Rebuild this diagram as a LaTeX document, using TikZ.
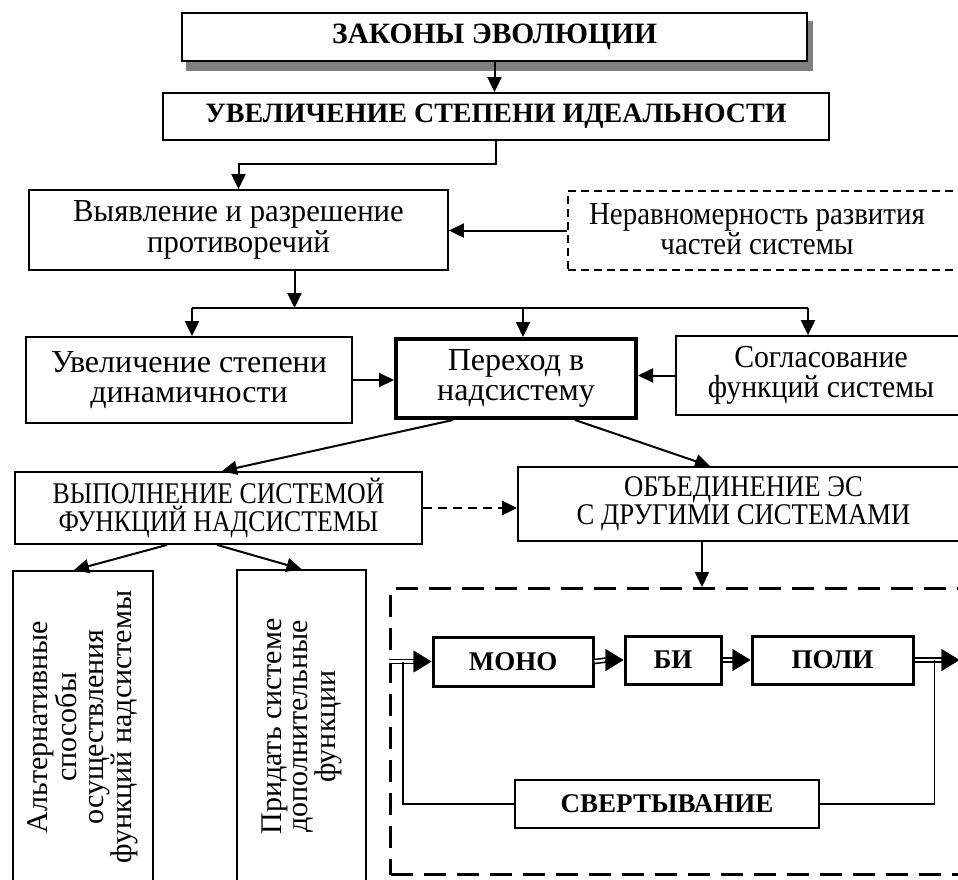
\documentclass[tikz,border=0pt]{standalone}
\usepackage{fontspec}
\setmainfont{Liberation Serif}
\newfontfamily\regfont[FakeStretch=0.96]{Liberation Serif}
\newfontfamily\nerfont[FakeStretch=0.905]{Liberation Serif}
\newfontfamily\soglfont[FakeStretch=0.93]{Liberation Serif}
\newfontfamily\condfont[FakeStretch=0.86]{Liberation Serif}
\newfontfamily\condfontB[FakeStretch=0.89]{Liberation Serif}
\usetikzlibrary{arrows.meta,backgrounds,calc}
\begin{document}
\begin{tikzpicture}[x=1pt,y=-1pt,
  box/.style={draw, line width=1.8pt, fill=white, inner sep=0pt, align=center,
    font=\fontsize{32}{30}\selectfont},
  capbox/.style={box, font=\condfont\fontsize{30}{28}\selectfont},
  boldbox/.style={box, line width=3pt, font=\bfseries\fontsize{27}{27}\selectfont},
  txt/.style={inner sep=0pt, align=center, font=\nerfont\fontsize{32}{30}\selectfont},
  dashbox/.style={draw, dash pattern=on 8pt off 5pt, line width=2pt, inner sep=0pt},
  bigdashbox/.style={draw, dash pattern=on 22pt off 11pt, line width=3pt, inner sep=0pt},
  arr/.style={line width=2pt, -{Triangle[length=15pt,width=14pt]}},
  dasharr/.style={line width=2.5pt, dash pattern=on 9pt off 6pt, -{Triangle[length=15pt,width=14pt]}},
  conn/.style={line width=2pt},
  dbl/.style={double, double distance=2.4pt, line width=1.6pt},
  bighead/.style={line width=0.4pt, -{Triangle[length=18pt,width=22pt]}}
]
\useasboundingbox (0,0) rectangle (958,879);

% top boxes
\node[box, font=\bfseries\fontsize{29.5}{29}\selectfont, minimum width=625pt, minimum height=48pt] (zak) at (494.5,37) {ЗАКОНЫ ЭВОЛЮЦИИ};
\begin{scope}[on background layer]
  \fill[black!50] ([xshift=5pt,yshift=-9pt]zak.south west) rectangle ([xshift=5pt,yshift=-9pt]zak.north east);
\end{scope}
\node[box, font=\bfseries\fontsize{28}{28}\selectfont, minimum width=666pt, minimum height=47pt] (ideal) at (496,116.5) {УВЕЛИЧЕНИЕ СТЕПЕНИ ИДЕАЛЬНОСТИ};

\node[box, font=\regfont\fontsize{32}{31}\selectfont, minimum width=419pt, minimum height=80pt] (vyyav) at (238.5,230) {Выявление и разрешение\\противоречий};
\node[dashbox, anchor=north west, minimum width=400pt, minimum height=79pt] (neravbox) at (567,190) {};
\node[txt] (nerav) at (757,229.5) {Неравномерность развития\\частей системы};

% row of three
\node[box, minimum width=326pt, minimum height=86pt] (uvel) at (189,380) {Увеличение степени\\динамичности};
\node[box, line width=4pt, minimum width=240pt, minimum height=79pt] (perehod) at (516,378.5) {Переход в\\надсистему};
\node[box, font=\soglfont\fontsize{32}{30}\selectfont, minimum width=290pt, minimum height=79pt] (sogl) at (821,375.5) {Согласование\\функций системы};

% caps boxes
\node[capbox, minimum width=407pt, minimum height=72pt] (vypoln) at (218.5,508) {ВЫПОЛНЕНИЕ СИСТЕМОЙ\\ФУНКЦИЙ НАДСИСТЕМЫ};
\node[capbox, font=\condfontB\fontsize{30}{28}\selectfont, minimum width=451pt, minimum height=74pt] (obed) at (743.5,504) {ОБЪЕДИНЕНИЕ ЭС\\С ДРУГИМИ СИСТЕМАМИ};

% vertical boxes
\node[box, minimum width=140pt, minimum height=312pt] (alt) at (83,727)
  {\rotatebox{90}{\parbox{300pt}{\centering\fontsize{30}{27}\selectfont Альтернативные\\способы\\осуществления\\функций надсистемы}}};
\node[box, minimum width=129pt, minimum height=313pt] (prid) at (301.5,726.5)
  {\rotatebox{90}{\parbox{300pt}{\centering\fontsize{30}{26.5}\selectfont Придать системе\\дополнительные\\функции}}};

% big dashed frame and its content
\node[bigdashbox, anchor=north west, minimum width=580pt, minimum height=286pt] (bigdash) at (389,587) {};
\node[boldbox, minimum width=160pt, minimum height=49pt] (mono) at (513,661.5) {МОНО};
\node[boldbox, minimum width=96pt, minimum height=48pt] (bi) at (673,660) {БИ};
\node[boldbox, minimum width=161pt, minimum height=48pt] (poli) at (832.5,660) {ПОЛИ};
\node[boldbox, line width=2pt, minimum width=304pt, minimum height=48pt] (svert) at (667,804) {СВЕРТЫВАНИЕ};

% connectors top
\draw[arr] (zak.south) -- (zak.south |- ideal.north);
\draw[arr] (ideal.south) -- ++(0,23) -| (vyyav.north);
\draw[arr] (neravbox.west) -- (vyyav.east |- neravbox.west);

% bus
\coordinate (busL) at (192,308);
\coordinate (busR) at (808,308);
\draw[arr] ([xshift=56pt]vyyav.south) -- ([xshift=56pt]vyyav.south |- busL);
\draw[conn] (busL) -- (busR);
\draw[arr] (busL) -- (busL |- uvel.north);
\draw[arr] ([xshift=7pt]perehod.north |- busL) -- ([xshift=7pt]perehod.north);
\draw[arr] (busR) -- (busR |- sogl.north);

\draw[arr] (uvel.east) -- (perehod.west |- uvel.east);
\draw[arr] (sogl.west) -- (perehod.east |- sogl.west);

% from Переход
\draw[arr] ([xshift=-63pt]perehod.south) -- ([xshift=3.5pt]vypoln.north);
\draw[arr] ([xshift=59pt]perehod.south) -- ([xshift=-33.5pt]obed.north);
\draw[dasharr] (vypoln.east) -- (obed.west |- vypoln.east);

\draw[arr] ([xshift=-51.5pt]vypoln.south) -- ([xshift=-9pt]alt.north);
\draw[arr] ([xshift=-1.5pt]vypoln.south) -- (prid.north);

\draw[arr] ([xshift=-41.5pt]obed.south) -- ([xshift=-41.5pt]obed.south |- bigdash.north);

% double arrows
\coordinate (inL) at (bigdash.west |- mono.west);
\coordinate (outR) at ([xshift=45pt]poli.east);
\draw[dbl] (inL) -- ([xshift=-17pt]mono.west);
\draw[bighead] ([xshift=-19pt]mono.west) -- (mono.west);
\draw[dbl] (mono.east) -- ([xshift=-17pt]bi.west);
\draw[bighead] ([xshift=-19pt]bi.west) -- (bi.west);
\draw[dbl] (bi.east) -- ([xshift=-17pt]poli.west);
\draw[bighead] ([xshift=-19pt]poli.west) -- (poli.west);
\draw[dbl] (poli.east) -- ([xshift=-17pt]outR);
\draw[bighead] ([xshift=-19pt]outR) -- (outR);

% feedback loop
\draw[line width=1.8pt] ([xshift=20pt]poli.east) |- (svert.east);
\draw[line width=1.8pt] (svert.west) -| ([xshift=14pt]inL);
\end{tikzpicture}
\end{document}
